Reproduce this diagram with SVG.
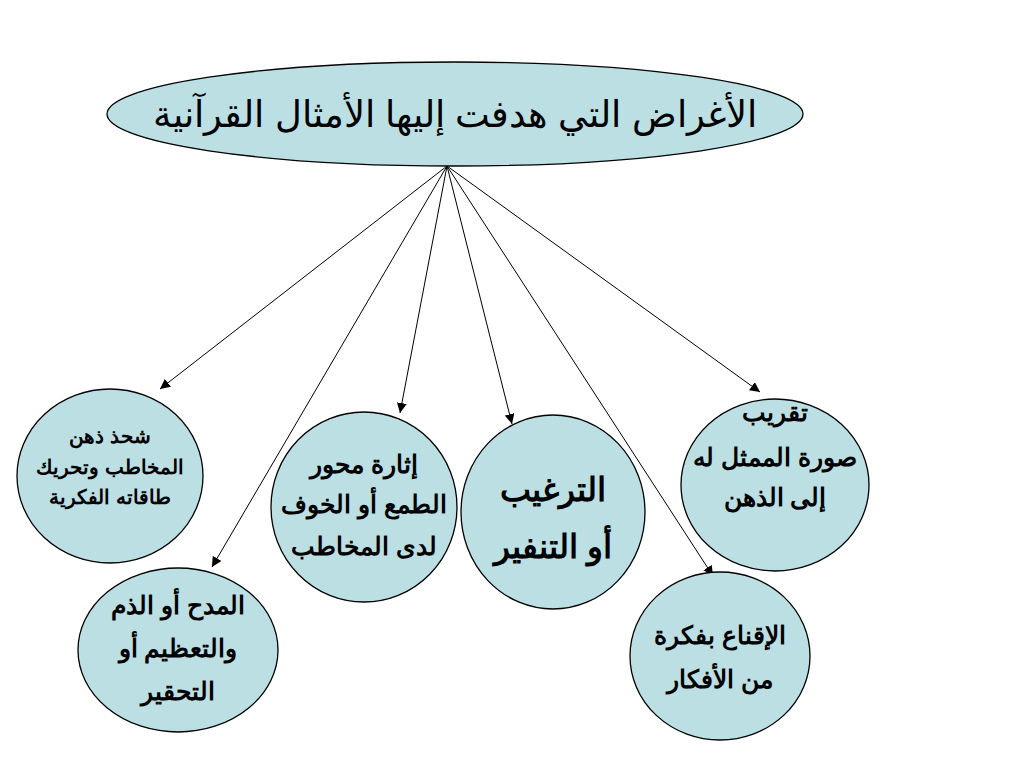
<svg xmlns="http://www.w3.org/2000/svg" width="1024" height="768" viewBox="0 0 1024 768">
<style>
.node{fill:#bcdfe3;stroke:#000;stroke-width:1.3}
.t{font-family:"Liberation Sans",Arial,sans-serif;font-weight:bold;text-anchor:middle;fill:#000;direction:rtl}
.title{font-family:"Liberation Sans",Arial,sans-serif;font-size:37px;text-anchor:middle;fill:#000;direction:rtl}
.c{stroke:#000;stroke-width:1;fill:none;marker-end:url(#ah)}
</style>
<defs>
<marker id="ah" viewBox="0 0 10 10" refX="10" refY="5" markerWidth="10" markerHeight="10" markerUnits="userSpaceOnUse" orient="auto">
<path d="M0,0 L10,5 L0,10 z" fill="#000"/>
</marker>
</defs>
<rect width="1024" height="768" fill="#fff"/>
<g id="connectors">
<line class="c" x1="447" y1="166" x2="160" y2="389"/>
<line class="c" x1="447" y1="166" x2="212" y2="567"/>
<line class="c" x1="447" y1="166" x2="400" y2="413"/>
<line class="c" x1="447" y1="166" x2="512" y2="424"/>
<line class="c" x1="447" y1="166" x2="713" y2="576"/>
<line class="c" x1="447" y1="166" x2="760" y2="392"/>
</g>
<g id="root">
<ellipse class="node" cx="455" cy="114" rx="348" ry="52"/>
<text class="title" x="455" y="127">الأغراض التي هدفت إليها الأمثال القرآنية</text>
</g>
<g id="n1">
<ellipse class="node" cx="110" cy="476" rx="93" ry="87"/>
<text class="t" font-size="20" x="110" y="443">شحذ ذهن</text>
<text class="t" font-size="20" x="110" y="474">المخاطب وتحريك</text>
<text class="t" font-size="20" x="110" y="504">طاقاته الفكرية</text>
</g>
<g id="n2">
<ellipse class="node" cx="178" cy="650" rx="100" ry="82"/>
<text class="t" font-size="25" x="178" y="614">المدح أو الذم</text>
<text class="t" font-size="25" x="178" y="657">والتعظيم أو</text>
<text class="t" font-size="25" x="178" y="700">التحقير</text>
</g>
<g id="n3">
<ellipse class="node" cx="364" cy="507" rx="93" ry="95"/>
<text class="t" font-size="25" x="364" y="473">إثارة محور</text>
<text class="t" font-size="25" x="364" y="513">الطمع أو الخوف</text>
<text class="t" font-size="25" x="364" y="555">لدى المخاطب</text>
</g>
<g id="n4">
<ellipse class="node" cx="553" cy="512" rx="92" ry="97"/>
<text class="t" font-size="33" x="553" y="501">الترغيب</text>
<text class="t" font-size="33" x="553" y="558">أو التنفير</text>
</g>
<g id="n5">
<ellipse class="node" cx="775" cy="485" rx="94" ry="86"/>
<text class="t" font-size="25" x="775" y="421">تقريب</text>
<text class="t" font-size="25" x="775" y="466">صورة الممثل له</text>
<text class="t" font-size="25" x="775" y="506">إلى الذهن</text>
</g>
<g id="n6">
<ellipse class="node" cx="720" cy="656" rx="90" ry="84"/>
<text class="t" font-size="25" x="720" y="644">الإقناع بفكرة</text>
<text class="t" font-size="25" x="720" y="688">من الأفكار</text>
</g>
</svg>
